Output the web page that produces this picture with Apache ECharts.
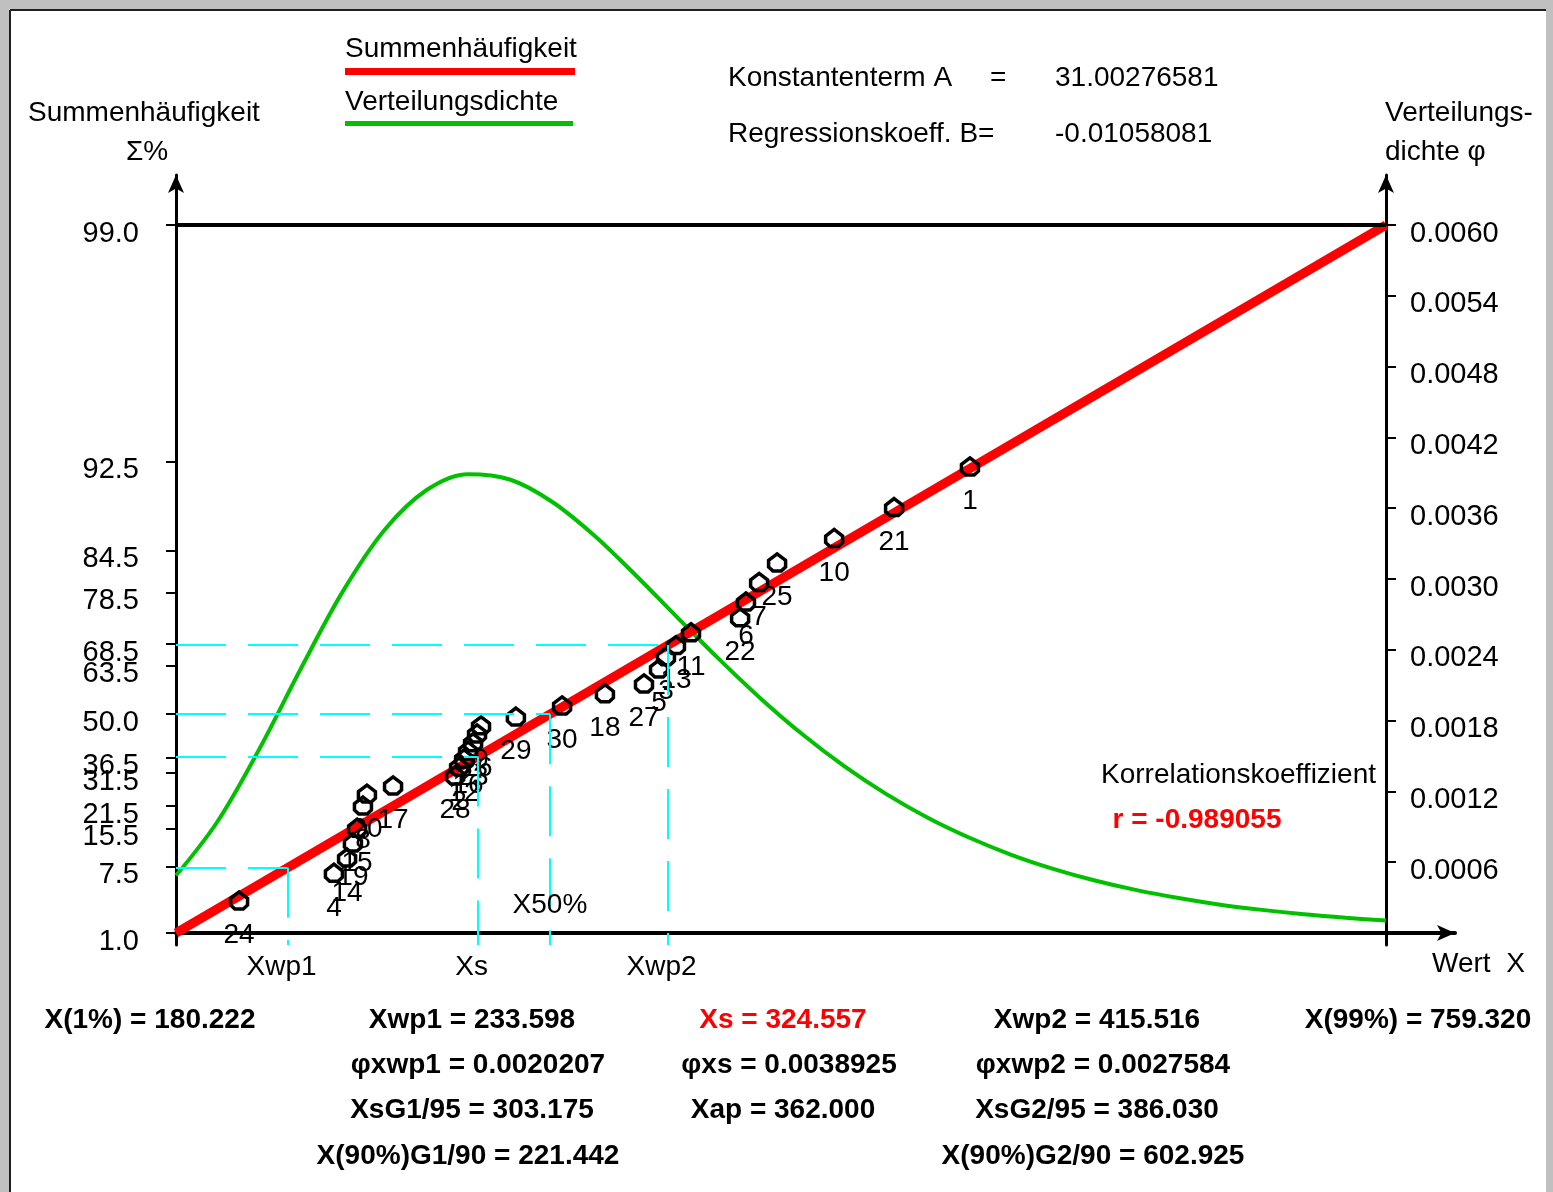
<!DOCTYPE html>
<html>
<head>
<meta charset="utf-8">
<title>Summenhäufigkeit und Verteilungsdichte</title>
<script src="https://cdn.jsdelivr.net/npm/echarts@6/dist/echarts.min.js"></script>
<style>
  html, body { margin: 0; padding: 0; background: #ffffff; }
  #chart { width: 1553px; height: 1192px; }
</style>
</head>
<body>
<div id="chart"></div>
<script>
// ---- Messwerte: Probennummer, Wert X und Summenhäufigkeit in % ----
const sampleIds = [1, 21, 10, 25, 7, 6, 22, 11, 13, 3, 5, 27, 18, 30, 29,
                   9, 26, 23, 16, 12, 2, 28, 17, 20, 8, 15, 19, 14, 4, 24];
const sampleValues = [560.2, 523.9, 495.2, 467.9, 459.3, 453.0, 450.2, 426.7, 419.5, 414.7,
                      411.4, 404.2, 385.5, 365.0, 342.9, 326.2, 324.3, 322.4, 320.0, 318.1,
                      315.7, 313.8, 284.1, 271.6, 269.7, 266.9, 264.9, 262.1, 255.8, 210.4];
const samplePercents = [92.2, 89.1, 86.0, 83.0, 80.2, 77.0, 74.1, 71.1, 68.3, 65.7,
                        62.7, 58.8, 56.1, 52.6, 49.3, 46.6, 44.1, 41.3, 38.7, 36.2,
                        33.6, 30.8, 27.7, 25.2, 21.7, 15.7, 12.2, 9.1, 6.5, 3.1];

// ---- Ausgleichsgerade: X(1%) und X(99%) ----
const lineValues = [180.222, 759.320];
const linePercents = [1.0, 99.0];

// ---- Verteilungsdichte ----
const densityX = [180.2, 200, 220, 240, 260, 280, 300, 320, 340, 360,
                  380, 400, 420, 440, 460, 480, 500, 520, 540, 560,
                  580, 600, 620, 640, 660, 680, 700, 720, 740, 759.3];
const densityY = [0.000487, 0.000943, 0.001556, 0.002242, 0.002893, 0.003415, 0.003752, 0.003888, 0.003843, 0.003657,
                  0.003375, 0.003036, 0.002677, 0.002323, 0.001988, 0.001684, 0.001414, 0.001179, 0.000977, 0.000807,
                  0.000663, 0.000544, 0.000445, 0.000363, 0.000296, 0.000240, 0.000196, 0.000159, 0.000129, 0.000105];

// ---- Achsenteilung ----
const leftTicks = [1.0, 7.5, 15.5, 21.5, 31.5, 36.5, 50.0, 63.5, 68.5, 78.5, 84.5, 92.5, 99.0];
const rightTicks = [0.0006, 0.0012, 0.0018, 0.0024, 0.0030, 0.0036, 0.0042, 0.0048, 0.0054, 0.0060];

// ---- Kennwerte auf der Geraden ----
const charNames = ['Xwp1', 'Xs', 'X50%', 'Xwp2'];
const charValues = [233.598, 324.557, 359.2, 415.516];
const charPercents = [7.3, 36.8, 50.0, 68.3];

// ---- Texte ----
const regressionLines = [
  ['Konstantenterm A', '=', '31.00276581'],
  ['Regressionskoeff. B=', '', '-0.01058081']
];
const correlationTitle = 'Korrelationskoeffizient';
const correlationValue = 'r = -0.989055';
const statRows = [
  ['X(1%) = 180.222', 'Xwp1 = 233.598', 'Xs = 324.557', 'Xwp2 = 415.516', 'X(99%) = 759.320'],
  ['', 'φxwp1 = 0.0020207', 'φxs = 0.0038925', 'φxwp2 = 0.0027584', ''],
  ['', 'XsG1/95 = 303.175', 'Xap = 362.000', 'XsG2/95 = 386.030', ''],
  ['', 'X(90%)G1/90 = 221.442', '', 'X(90%)G2/90 = 602.925', '']
];

// Gumbel-Wahrscheinlichkeitsteilung: 1 % liegt auf 0
const G0 = -Math.log(-Math.log(0.01));
const gum = p => -Math.log(-Math.log(p / 100)) - G0;
const ungum = v => 100 * Math.exp(-Math.exp(-(v + G0)));

const FONT = '"Liberation Sans", Arial, sans-serif';

// Layout des Diagrammfeldes
const PLOT_LEFT = 176, PLOT_W = 1210, ARROW_X = 69;
const PLOT_TOP = 225, PLOT_H = 708, ABOVE = 50, BELOW = 12;

const span = gum(linePercents[1]);
const pxPerUnit = PLOT_H / span;
const leftMin = -BELOW / pxPerUnit;
const leftMax = span + ABOVE / pxPerUnit;
const densTop = rightTicks[rightTicks.length - 1];
const rightMin = -BELOW * densTop / PLOT_H;
const rightMax = densTop + ABOVE * densTop / PLOT_H;
const pxPerX = PLOT_W / (lineValues[1] - lineValues[0]);
const xMin = lineValues[0];
const xMax = lineValues[1] + ARROW_X / pxPerX;

const cyan = { color: '#00ffff', width: 2, type: [50, 22] };
const helperLines = [
  [{ coord: [lineValues[0], gum(linePercents[1])], lineStyle: { color: '#000', width: 4, type: 'solid' } },
   { coord: [lineValues[1], gum(linePercents[1])] }]
];
charValues.forEach((x, i) => {
  const y = gum(charPercents[i]);
  helperLines.push([{ coord: [lineValues[0], y], lineStyle: cyan }, { coord: [x, y] }]);
  helperLines.push([{ coord: [x, y], lineStyle: cyan }, { coord: [x, leftMin] }]);
});

const axisLabelValues = charValues.filter((v, i) => charNames[i] !== 'X50%');
const nameOf = v => charNames[charValues.findIndex(m => Math.abs(m - v) < 0.01)];

const chart = echarts.init(document.getElementById('chart'));
chart.setOption({
  animation: false,
  backgroundColor: '#ffffff',
  textStyle: { fontFamily: FONT },
  grid: { left: PLOT_LEFT, top: PLOT_TOP - ABOVE, width: PLOT_W + ARROW_X, height: PLOT_H + ABOVE + BELOW },
  xAxis: {
    type: 'value', min: xMin, max: xMax,
    splitLine: { show: false },
    axisTick: { show: false },
    axisLine: { show: true, onZero: true, symbol: ['none', 'arrow'], symbolSize: [12, 18],
                lineStyle: { color: '#000', width: 4 } },
    axisLabel: { customValues: axisLabelValues, formatter: v => nameOf(v),
                 color: '#000', fontSize: 28, fontFamily: FONT, margin: 8, padding: [0, 12, 0, 0] }
  },
  yAxis: [
    {
      type: 'value', position: 'left', min: leftMin, max: leftMax,
      splitLine: { show: false },
      axisLine: { show: true, symbol: ['none', 'arrow'], symbolSize: [12, 18],
                  lineStyle: { color: '#000', width: 3 } },
      axisTick: { show: true, customValues: leftTicks.map(gum), length: 10,
                  lineStyle: { color: '#000', width: 2 } },
      axisLabel: { customValues: leftTicks.map(gum), formatter: v => ungum(v).toFixed(1),
                   color: '#000', fontSize: 29, fontFamily: FONT, margin: 37,
                   verticalAlign: 'top', padding: [-6, 0, 0, 0] }
    },
    {
      type: 'value', position: 'right', offset: -ARROW_X, min: rightMin, max: rightMax,
      splitLine: { show: false },
      axisLine: { show: true, onZero: false, symbol: ['none', 'arrow'], symbolSize: [12, 18],
                  lineStyle: { color: '#000', width: 3 } },
      axisTick: { show: true, customValues: rightTicks, length: 10,
                  lineStyle: { color: '#000', width: 2 } },
      axisLabel: { customValues: rightTicks, formatter: v => v.toFixed(4),
                   color: '#000', fontSize: 29, fontFamily: FONT, margin: 24,
                   verticalAlign: 'top', padding: [-6, 0, 0, 0] }
    }
  ],
  series: [
    {
      name: 'Hilfslinien', type: 'scatter', symbol: 'none', silent: true, z: 1,
      data: charValues.map((x, i) => [x, gum(charPercents[i])]),
      markLine: { silent: true, symbol: ['none', 'none'], label: { show: false }, data: helperLines }
    },
    {
      name: 'Verteilungsdichte', type: 'line', yAxisIndex: 1, z: 2,
      data: densityX.map((x, i) => [x, densityY[i]]),
      showSymbol: false, smooth: 0.35,
      lineStyle: { color: '#00c000', width: 4 }
    },
    {
      name: 'Summenhäufigkeit', type: 'line', yAxisIndex: 0, z: 3,
      data: lineValues.map((x, i) => [x, gum(linePercents[i])]),
      showSymbol: false,
      lineStyle: { color: '#ff0000', width: 9 }
    },
    {
      name: 'Proben', type: 'scatter', yAxisIndex: 0, z: 4,
      data: sampleValues.map((x, i) => [x, gum(samplePercents[i]), sampleIds[i]]),
      symbol: 'path://M6,0 L12,5 L12,10 L9,13 L3,13 L0,10 L0,5 Z',
      symbolSize: [17, 17],
      itemStyle: { color: 'rgba(0,0,0,0)', borderColor: '#000', borderWidth: 3.5, opacity: 1 },
      label: { show: true, position: 'bottom', distance: 11, formatter: p => String(p.data[2]),
               color: '#000', textBorderWidth: 0, fontSize: 28, fontFamily: FONT }
    }
  ]
});

// ---- Beschriftungen, Legende und Rahmen ----
function txt(x, y, s, o = {}) {
  return {
    type: 'text', x, y, z: 50, silent: true,
    style: {
      text: s, fill: o.fill || '#000', align: o.align || 'left', verticalAlign: 'middle',
      font: (o.bold ? 'bold ' : '') + (o.size || 28) + 'px ' + FONT
    }
  };
}
const g = [];
// Fensterrahmen
g.push({ type: 'rect', z: 60, silent: true, shape: { x: 0, y: 0, width: 1553, height: 9 }, style: { fill: '#c0c0c0' } });
g.push({ type: 'rect', z: 60, silent: true, shape: { x: 0, y: 0, width: 9, height: 1192 }, style: { fill: '#c0c0c0' } });
g.push({ type: 'rect', z: 60, silent: true, shape: { x: 1546, y: 0, width: 7, height: 1192 }, style: { fill: '#c0c0c0' } });
g.push({ type: 'line', z: 61, silent: true, shape: { x1: 10, y1: 10, x2: 1546, y2: 10 }, style: { stroke: '#202020', lineWidth: 2 } });
g.push({ type: 'line', z: 61, silent: true, shape: { x1: 10, y1: 10, x2: 10, y2: 1192 }, style: { stroke: '#202020', lineWidth: 2 } });

// Legende
g.push(txt(345, 49, 'Summenhäufigkeit'));
g.push({ type: 'rect', z: 50, silent: true, shape: { x: 345, y: 68, width: 230, height: 7 }, style: { fill: '#ff0000' } });
g.push(txt(345, 102, 'Verteilungsdichte'));
g.push({ type: 'rect', z: 50, silent: true, shape: { x: 345, y: 121, width: 228, height: 5 }, style: { fill: '#00c000' } });

// Achsentitel
g.push(txt(28, 113, 'Summenhäufigkeit'));
g.push(txt(147, 152, 'Σ%', { align: 'center' }));
g.push(txt(1385, 113, 'Verteilungs-'));
g.push(txt(1385, 152, 'dichte φ'));
g.push(txt(1432, 964, 'Wert  X'));

// Regressionskennwerte
regressionLines.forEach((r, i) => {
  const y = 78 + i * 56;
  g.push(txt(728, y, r[0]));
  if (r[1]) g.push(txt(990, y, r[1]));
  g.push(txt(1055, y, r[2]));
});

// Korrelation
g.push(txt(1376, 775, correlationTitle, { align: 'right' }));
g.push(txt(1197, 820, correlationValue, { align: 'center', bold: true, fill: '#ff0000' }));

// X50%-Beschriftung an der Hilfslinie
const x50 = chart.convertToPixel({ xAxisIndex: 0 }, charValues[charNames.indexOf('X50%')]);
g.push(txt(x50, 905, 'X50%', { align: 'center' }));

// Kennwerttabelle
const colCenters = [150, 472, 783, 1097, 1418];
const rowY = [1020, 1065, 1110, 1156];
statRows.forEach((row, r) => {
  row.forEach((s, c) => {
    if (!s) return;
    const cx = colCenters[c] + (r === 1 ? 6 : 0) + (r === 3 ? -4 : 0);
    g.push(txt(cx, rowY[r], s, { align: 'center', bold: true, size: 28,
                                 fill: (r === 0 && c === 2) ? '#ff0000' : '#000' }));
  });
});

chart.setOption({ graphic: { elements: g } });
</script>
</body>
</html>
